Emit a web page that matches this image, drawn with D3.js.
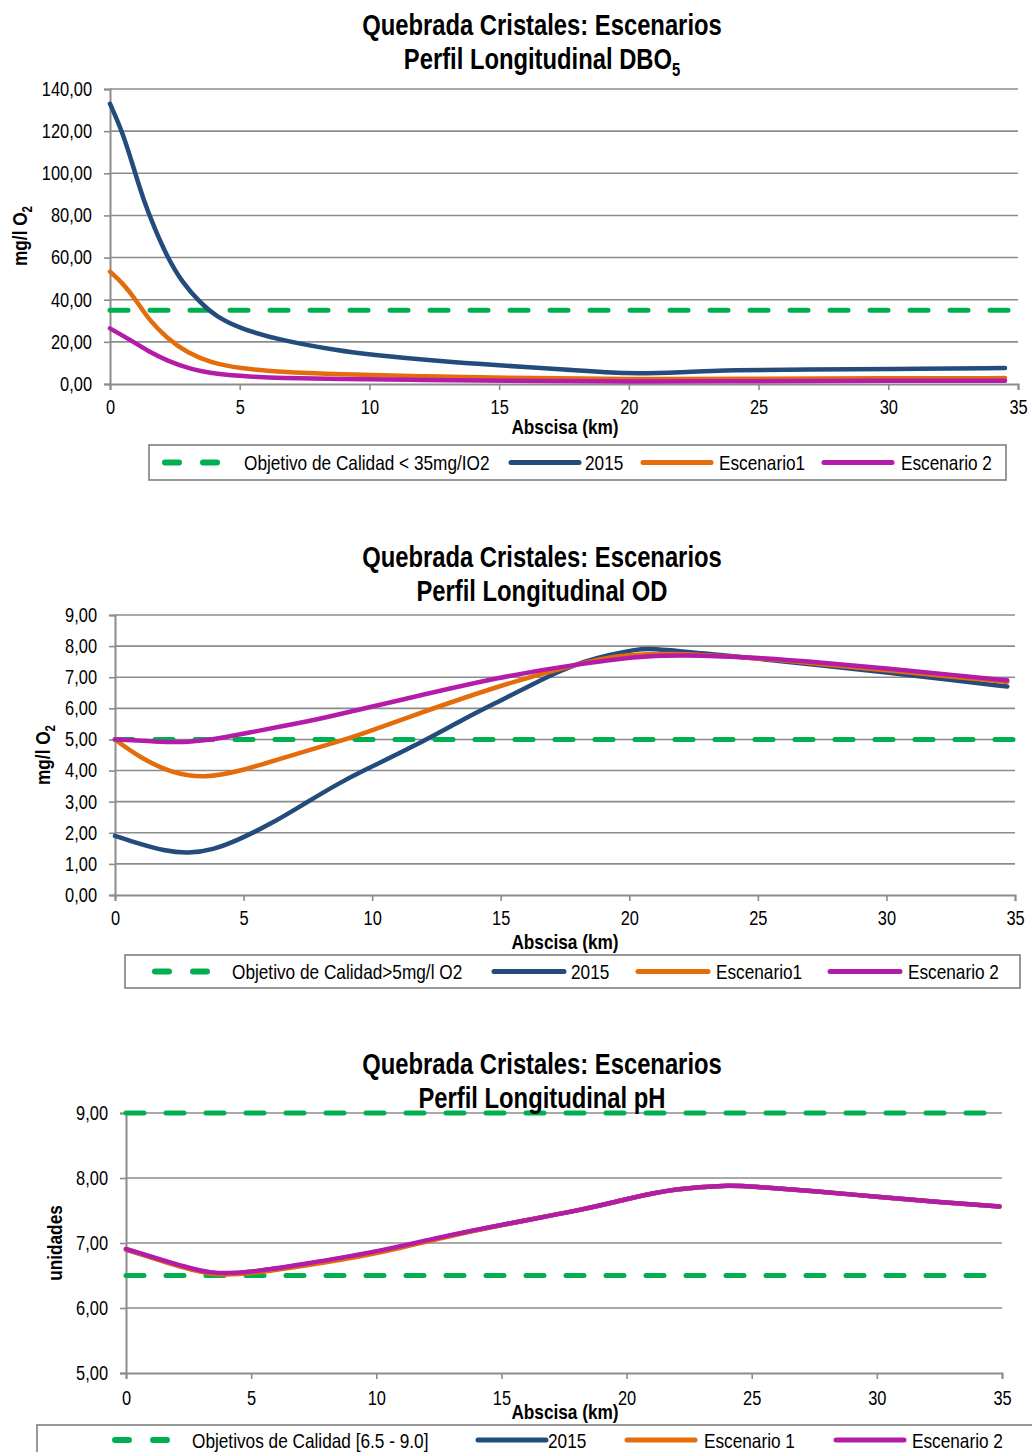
<!DOCTYPE html>
<html><head><meta charset="utf-8">
<script src="https://cdn.jsdelivr.net/npm/d3@7"></script>
<style>
body{margin:0;background:#fff;}
svg text{font-family:"Liberation Sans Narrow","Arial Narrow","Liberation Sans",Arial,sans-serif;fill:#000;}
</style></head><body>
<svg id="c" width="1032" height="1452"></svg>
<script>
// ---------- DATA ----------
const seriesNames = ["2015","Escenario1","Escenario 2"];
const xTicks = [0,5,10,15,20,25,30,35];

// DBO5
const dboX2015 = [0,0.5,0.9,1.3,1.7,2.2,2.8,3.5,4.1,5,6.5,8.9,10,12.5,15,17.5,20,22,24,27,30,34.5];
const dbo2015  = [133,119,103,87,74.5,60.4,47.8,38.3,31.9,26.4,20.9,15.6,14,11,8.8,7,4.6,5.6,6.6,6.9,7.1,7.6];
const dboXEsc1 = [0,0.5,1.0,1.5,2.2,3.0,3.9,5,6.5,8.9,12,15,20,25,30,34.5];
const dboEsc1  = [53.3,47.8,39.9,30.4,21.7,14.6,10.1,7.4,5.8,4.6,3.6,3,2.2,2.5,2.7,2.8];
const dboXEsc2 = [0,0.9,1.5,2.2,3.1,4.1,5.4,6.5,8.9,12,15,20,25,30,34.5];
const dboEsc2  = [26.4,20.1,15.3,11.1,7.0,4.7,3.5,2.8,2.3,1.9,1.6,1.0,1.4,1.5,1.5];
const dboTarget = 35;
const dboYTicks = [0,20,40,60,80,100,120,140];

// OD
const odX2015 = [0,0.9,1.9,2.85,3.8,4.8,6.1,7.4,8.7,9.7,11.5,13.7,15,16.3,17.3,18.2,19.2,20.2,20.8,22.8,25,27.5,30,32.5,34.7];
const od2015  = [1.9,1.66,1.42,1.33,1.45,1.77,2.3,2.95,3.59,4.02,4.72,5.72,6.25,6.8,7.2,7.5,7.72,7.88,7.94,7.77,7.6,7.38,7.15,6.92,6.7];
const odXEsc1 = [0,0.9,2.2,3.5,4.8,6.7,8.7,9.7,11.1,15,17.6,19.5,21.5,25,27.5,30,32.5,34.7];
const odEsc1  = [5.0,4.45,3.91,3.76,3.96,4.45,4.93,5.2,5.63,6.75,7.34,7.72,7.78,7.62,7.42,7.22,7.02,6.85];
const odXEsc2 = [0,1.6,2.85,4.15,5.4,6.7,8.0,11.1,15,18.2,20.8,22.8,25,27.5,30,32.5,34.7];
const odEsc2  = [5.0,4.93,4.9,5.04,5.25,5.46,5.66,6.27,7.02,7.45,7.71,7.7,7.63,7.47,7.28,7.08,6.9];
const odTarget = 5;
const odYTicks = [0,1,2,3,4,5,6,7,8,9];

// pH
const phX2015 = [0,1.6,3.4,5,7,10,12.5,15,18.5,20,22,24,25,27.5,30,32.5,34.9];
const ph2015  = [6.9,6.71,6.5,6.55,6.66,6.85,7.08,7.28,7.53,7.68,7.84,7.89,7.87,7.8,7.71,7.63,7.56];
const phXEsc1 = [0,1.6,3.4,5,7,10,12.5,15,18.5,20,22,24,25,27.5,30,32.5,34.9];
const phEsc1  = [6.9,6.7,6.49,6.53,6.64,6.83,7.07,7.28,7.53,7.68,7.84,7.89,7.87,7.8,7.71,7.63,7.56];
const phXEsc2 = [0,1.6,3.4,5,7,10,12.5,15,18.5,20,22,24,25,27.5,30,32.5,34.9];
const phEsc2  = [6.91,6.72,6.51,6.55,6.67,6.86,7.09,7.28,7.53,7.68,7.84,7.89,7.87,7.8,7.71,7.63,7.56];
const phTargets = [6.5,9.0];
const phYTicks = [5,6,7,8,9];

const legendDBO = ["Objetivo de Calidad < 35mg/IO2","2015","Escenario1","Escenario 2"];
const legendOD  = ["Objetivo de Calidad>5mg/l O2","2015","Escenario1","Escenario 2"];
const legendPH  = ["Objetivos de Calidad [6.5 - 9.0]","2015","Escenario 1","Escenario 2"];

// ---------- DRAW ----------
const colors = {green:"#00b050", blue:"#234b7c", orange:"#e46c0a", magenta:"#b31ba8"};
const svg = d3.select("#c");
const fmt = v => d3.format(".2f")(v).replace(".", ",");
const NARROW = 0.82;

function chart(cfg){
  const g = svg.append("g");
  const x = d3.scaleLinear().domain([0,35]).range([cfg.x0, cfg.x1]);
  const y = d3.scaleLinear().domain(cfg.yDomain).range([cfg.y0, cfg.y1]);

  // gridlines
  g.append("g").selectAll("line").data(cfg.yTicks.filter(t=>t!==cfg.yDomain[0])).join("line")
    .attr("x1", cfg.x0).attr("x2", cfg.x1).attr("y1", d=>y(d)).attr("y2", d=>y(d))
    .attr("stroke","#8c8c8c").attr("stroke-width",1.6);

  // y axis
  const ya = g.append("g").attr("transform",`translate(${cfg.x0},0)`)
    .call(d3.axisLeft(y).tickValues(cfg.yTicks).tickFormat(fmt).tickSize(6).tickPadding(12));
  ya.select(".domain").attr("stroke","#8c8c8c").attr("stroke-width",2);
  ya.selectAll(".tick line").attr("stroke","#8c8c8c").attr("stroke-width",1.6);
  ya.selectAll("text").attr("font-size",20).attr("fill","#000");

  // x axis
  const xa = g.append("g").attr("transform",`translate(0,${cfg.y0})`)
    .call(d3.axisBottom(x).tickValues(xTicks).tickFormat(d3.format("d")).tickSize(6).tickPadding(cfg.xPad));
  xa.select(".domain").attr("stroke","#8c8c8c").attr("stroke-width",2);
  xa.selectAll(".tick line").attr("stroke","#8c8c8c").attr("stroke-width",1.6);
  xa.selectAll("text").attr("font-size",20).attr("fill","#000");
  xa.attr("font-family",null);
  ya.attr("font-family",null);

  // targets
  cfg.targets.forEach(t=>{
    g.append("line").attr("x1",cfg.x0).attr("x2",cfg.x1).attr("y1",y(t)).attr("y2",y(t))
      .attr("stroke",colors.green).attr("stroke-width",5).attr("stroke-dasharray","18,22")
      .attr("stroke-linecap","round");
  });

  // series
  const line = d3.line().curve(d3.curveBasis).x(d=>x(d[0])).y(d=>y(d[1]));
  const cols = [colors.blue, colors.orange, colors.magenta];
  cfg.series.forEach((s,i)=>{
    g.append("path").datum(d3.zip(s[0], s[1])).attr("d", line)
      .attr("fill","none").attr("stroke",cols[i]).attr("stroke-width",4.5)
      .attr("stroke-linecap","round").attr("stroke-linejoin","round");
  });

  // titles
  const t = g.append("text").attr("text-anchor","middle").attr("font-weight","bold").attr("font-size",29);
  t.append("tspan").attr("x",542).attr("y",cfg.titleY).text("Quebrada Cristales: Escenarios");
  if(cfg.title2sub){
    const t2 = g.append("text").attr("font-weight","bold").attr("font-size",29);
    t2.append("tspan").attr("x",0).attr("y",cfg.titleY+34).text(cfg.title2);
    t2.append("tspan").attr("font-size",18).attr("dy",7).text(cfg.title2sub);
    t2.attr("data-center",542);
  } else {
    t.append("tspan").attr("x",542).attr("y",cfg.titleY+34).text(cfg.title2);
  }

  // x title
  g.append("text").attr("x",565).attr("y",cfg.xTitleY).attr("text-anchor","middle")
    .attr("font-weight","bold").attr("font-size",21).text("Abscisa (km)");

  // y title
  const yt = g.append("text").attr("transform",`translate(${cfg.yTitleX},${cfg.yTitleY}) rotate(-90)`)
    .attr("text-anchor","middle").attr("font-weight","bold").attr("font-size",21);
  yt.append("tspan").text(cfg.yTitle);
  if(cfg.yTitleSub){ yt.append("tspan").attr("font-size",14).attr("dy",5).text(cfg.yTitleSub); }

  // legend
  const L = cfg.legend;
  g.append("rect").attr("x",L.x).attr("y",L.y).attr("width",L.w).attr("height",L.h)
    .attr("fill","none").attr("stroke","#7f7f7f").attr("stroke-width",1.6);
  const my = L.y + L.mid;
  const lcols = [colors.green, colors.blue, colors.orange, colors.magenta];
  cfg.legendItems.forEach((name,i)=>{
    const sx = L.sx[i];
    if(i===0){
      g.append("line").attr("x1",sx+3).attr("x2",sx+60).attr("y1",my).attr("y2",my)
        .attr("stroke",lcols[0]).attr("stroke-width",6).attr("stroke-dasharray","14,24").attr("stroke-linecap","round");
    } else {
      g.append("line").attr("x1",sx+2).attr("x2",sx+L.lw).attr("y1",my).attr("y2",my)
        .attr("stroke",lcols[i]).attr("stroke-width",5).attr("stroke-linecap","round");
    }
    g.append("text").attr("x",L.tx[i]).attr("y",my+7.5).attr("font-size",21).text(name);
  });
}

chart({
  x0:110, x1:1018, y0:384, y1:89, yDomain:[0,140], yTicks:dboYTicks,
  targets:[dboTarget], xPad:10,
  series:[[dboX2015,dbo2015],[dboXEsc1,dboEsc1],[dboXEsc2,dboEsc2]],
  titleY:35, title2:"Perfil Longitudinal DBO", title2sub:"5",
  xTitleY:434, yTitleX:27, yTitleY:236, yTitle:"mg/l O", yTitleSub:"2",
  legend:{x:149,y:445,w:857,h:35,mid:17.5, sx:[162,509,641,822], tx:[244,585,719,901], lw:70},
  legendItems:legendDBO
});
chart({
  x0:115, x1:1015, y0:895, y1:615, yDomain:[0,9], yTicks:odYTicks,
  targets:[odTarget], xPad:10,
  series:[[odX2015,od2015],[odXEsc1,odEsc1],[odXEsc2,odEsc2]],
  titleY:567, title2:"Perfil Longitudinal OD",
  xTitleY:949, yTitleX:50, yTitleY:755, yTitle:"mg/l O", yTitleSub:"2",
  legend:{x:125,y:955,w:895,h:33,mid:16.5, sx:[152,492,636,828], tx:[232,571,716,908], lw:72},
  legendItems:legendOD
});
chart({
  x0:126, x1:1002, y0:1373, y1:1113, yDomain:[5,9], yTicks:phYTicks,
  targets:phTargets, xPad:12,
  series:[[phX2015,ph2015],[phXEsc1,phEsc1],[phXEsc2,phEsc2]],
  titleY:1074, title2:"Perfil Longitudinal pH",
  xTitleY:1419, yTitleX:62, yTitleY:1243, yTitle:"unidades",
  legend:{x:37,y:1425,w:1010,h:40,mid:15, sx:[112,476,625,834], tx:[192,548,704,912], lw:70},
  legendItems:legendPH
});

// condense all text to a narrow face
svg.selectAll("text").each(function(){
  const el = d3.select(this);
  const spans = el.selectAll("tspan");
  if(spans.size()){
    spans.each(function(){
      const w = this.getComputedTextLength();
      d3.select(this).attr("textLength", w*NARROW).attr("lengthAdjust","spacingAndGlyphs");
    });
  } else {
    const w = this.getComputedTextLength();
    el.attr("textLength", w*NARROW).attr("lengthAdjust","spacingAndGlyphs");
  }
});
// center the subscripted title after condensing
svg.selectAll("text[data-center]").each(function(){
  const bb = this.getBBox();
  const c = +this.getAttribute("data-center");
  d3.select(this).attr("transform",`translate(${c - bb.width/2 - bb.x},0)`);
});
</script></body></html>
